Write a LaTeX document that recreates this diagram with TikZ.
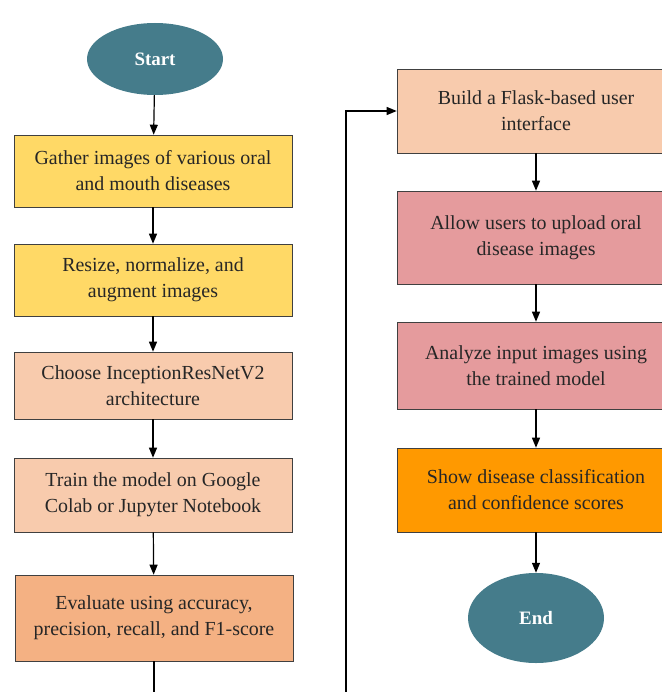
\documentclass[tikz,border=0pt]{standalone}
\usepackage{fontspec}
\setmainfont{Liberation Serif}
\usetikzlibrary{shapes.geometric,arrows.meta}

\definecolor{tealc}{RGB}{69,124,139}
\definecolor{yellowc}{RGB}{255,217,102}
\definecolor{peachc}{RGB}{248,203,173}
\definecolor{orangelc}{RGB}{244,177,131}
\definecolor{pinkc}{RGB}{229,155,157}
\definecolor{orangec}{RGB}{255,153,0}

\begin{document}
\begin{tikzpicture}[x=1bp,y=-1bp,>={Triangle[length=10bp,width=8bp]}]
\useasboundingbox (0,0) rectangle (662,692);
\begin{scope}[every node/.style={ellipse,fill=tealc,text=white,minimum width=136bp,font=\fontsize{19}{22}\selectfont\bfseries}]
    \node[minimum height=72bp] (start) at (155,59) {Start};
    \node[minimum height=90bp] (end) at (536,618) {End};
\end{scope}
\begin{scope}[every node/.style={rectangle,draw=black!75,line width=0.6bp,minimum width=278bp,align=center,text=black!85,font=\fontsize{20}{26}\selectfont}]
    \node[fill=yellowc,minimum height=72bp] (gather) at (153,171) {Gather images of various oral\\and mouth diseases};
    \node[fill=yellowc,minimum height=72bp] (resize) at (153,280) {Resize, normalize, and\\augment images};
    \node[fill=peachc,minimum height=67bp] (choose) at (153,385.5) {Choose InceptionResNetV2\\architecture};
    \node[fill=peachc,minimum height=74bp] (train) at (153,495) {Train the model on Google\\Colab or Jupyter Notebook};
    \node[fill=orangelc,minimum height=86bp] (eval) at (154,618) {Evaluate using accuracy,\\precision, recall, and F1-score};
    \node[fill=peachc,minimum height=84bp] (flask) at (536,111) {Build a Flask-based user\\interface};
    \node[fill=pinkc,minimum height=93bp] (upload) at (536,237.5) {Allow users to upload oral\\disease images};
    \node[fill=pinkc,minimum height=87bp] (analyze) at (536,365.5) {Analyze input images using\\the trained model};
    \node[fill=orangec,minimum height=84bp] (show) at (536,490) {Show disease classification\\and confidence scores};
\end{scope}
\coordinate (out) at (eval.south |- 0,700);
\coordinate (up) at (346,700);
\coordinate (turn) at (346,111);
\begin{scope}[line width=1.2bp]
    \draw[->] (start) -- (gather);
    \draw[->] (gather) -- (resize);
    \draw[->] (resize) -- (choose);
    \draw[->] (choose) -- (train);
    \draw[->] (train) -- (eval);
    \draw (eval) -- (out);
    \draw[->] (up) -- (turn) -- (flask);
    \draw[->] (flask) -- (upload);
    \draw[->] (upload) -- (analyze);
    \draw[->] (analyze) -- (show);
    \draw[->] (show) -- (end);
\end{scope}
\end{tikzpicture}
\end{document}
